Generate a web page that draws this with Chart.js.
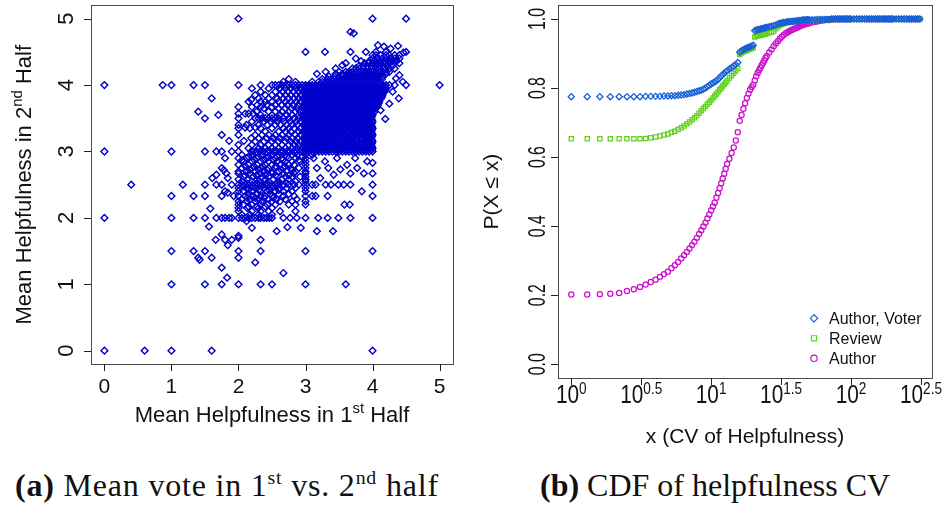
<!DOCTYPE html>
<html>
<head>
<meta charset="utf-8">
<title>Helpfulness votes</title>
<script src="https://cdn.jsdelivr.net/npm/chart.js@4.4.1/dist/chart.umd.min.js"></script>
<style>
  html, body { margin: 0; padding: 0; background: #fff; }
  body { width: 948px; height: 514px; position: relative; overflow: hidden; }
  #voteChart { position: absolute; left: 0; top: 0; }
  #cdfChart { position: absolute; left: 470px; top: 0; }
  .caption { position: absolute; top: 467px; font-family: "Liberation Serif", "DejaVu Serif", serif; font-size: 32px; line-height: 37px; color: #111; white-space: nowrap; }
  .caption sup { font-size: 0.62em; vertical-align: 0.6em; line-height: 0; }
</style>
</head>
<body>
<canvas id="voteChart" width="470" height="460"></canvas>
<canvas id="cdfChart" width="478" height="460"></canvas>
<div class="caption" style="left:15px; letter-spacing:0.8px"><b>(a)</b> Mean vote in 1<sup>st</sup> vs. 2<sup>nd</sup> half</div>
<div class="caption" style="left:540px"><b>(b)</b> CDF of helpfulness CV</div>
<script>
// ---- (a) mean helpfulness, first half vs second half ----
// isolated votes as [firstHalf, secondHalf]
const outlierVotes = [
  [2, 5], [4, 5], [4.5, 5], [3.67, 4.8], [3.72, 4.78],
  [4.08, 4.6], [4.17, 4.58], [4.38, 4.59], [4.27, 4.55], [4.46, 4.49],
  [3, 4.5], [3.29, 4.5], [3.67, 4.5], [3.9, 4.5], [4.5, 4.5], [4.05, 4.5], [4.2, 4.5],
  [3.17, 4.17], [3.3, 4.2], [3.45, 4.25], [3.55, 4.3], [3.6, 4.33],
  [0, 4], [0.87, 4], [1, 4], [1.33, 4], [1.5, 4], [2, 4], [2.33, 4], [2.5, 4], [4.33, 4], [4.5, 4], [5, 4],
  [1.6, 3.8], [1.4, 3.6], [1.5, 3.5], [1.7, 3.55], [2.19, 3.78], [2.15, 3.57],
  [4.19, 3.49], [4.39, 3.8], [4.12, 3.62], [4.25, 3.72], [4.3, 3.9], [4.45, 4.05], [4.4, 4.15], [4.35, 4.1],
  [0, 3], [1, 3], [1.5, 3], [1.67, 3], [1.75, 3], [1.9, 3],
  [1.8, 2.9], [1.67, 2.65], [1.75, 2.75], [1.84, 2.6], [1.61, 2.6], [1.78, 2.72], [1.82, 2.67],
  [0.4, 2.5], [1.17, 2.5], [1.5, 2.5], [1.67, 2.5], [1.75, 2.5],
  [1, 2.33], [1.33, 2.33], [1.5, 2.33], [1.75, 2.33], [1.84, 2.38], [1.93, 2.33], [1.8, 2.4],
  [1.58, 2.14], [0, 2], [1, 2], [1.33, 2], [1.5, 2], [1.67, 2], [1.75, 2],
  [1.56, 1.87], [1.75, 1.75], [1.66, 1.67], [1.8, 1.67], [1.9, 1.67], [1.84, 1.59], [2, 1.73], [2, 1.7],
  [2.2, 1.85], [2.33, 1.67], [2.12, 1.95], [2.57, 1.8], [2.73, 1.86], [2.93, 1.85], [3.17, 1.8], [3.41, 1.8],
  [1, 1.5], [1.33, 1.5], [1.5, 1.5], [2, 1.5], [2.33, 1.5], [3, 1.5], [4, 1.5],
  [1.4, 1.4], [1.42, 1.37], [1.6, 1.4], [2, 1.4], [2.25, 1.33], [1.75, 1.25], [1.83, 1.1], [2.67, 1.17],
  [1, 1], [1.5, 1], [1.75, 1], [2, 1], [2.33, 1], [2.5, 1], [3, 1], [3.6, 1],
  [0, 0], [0.6, 0], [1, 0], [1.6, 0], [4, 0],
  [3.12, 2.9], [3.22, 2.6], [3.42, 2.65], [3.52, 2.73], [3.57, 2.5], [3.92, 2.85], [3.84, 2.4],
  [3.1, 2.33], [3.15, 2.33], [3.33, 2.33], [4, 2.33], [3.58, 2.2], [3.66, 2.2], [4, 2.83]
];

// rows of votes sharing the same second-half mean: [secondHalf, [firstHalf...]]
const voteRows = [
  [4.45, [4, 4.05, 4.12, 4.2, 4.25, 4.33, 4.4]],
  [4.4, [3.75, 4, 4.07, 4.14, 4.2, 4.27, 4.33, 4.4]],
  [4.36, [3.83, 3.95, 4.02, 4.1, 4.17, 4.25, 4.3, 4.36]],
  [4.33, [3.88, 3.94, 4, 4.06, 4.12, 4.2, 4.25, 4.4]],
  [4.29, [3.8, 3.86, 3.92, 3.98, 4.04, 4.1, 4.15, 4.22, 4.3]],
  [4.25, [3.7, 3.75, 3.8, 3.86, 3.92, 4, 4.05, 4.1, 4.17, 4.25, 4.33]],
  [4.2, [3.5, 3.6, 3.65, 3.7, 3.75, 3.8, 3.85, 3.9, 3.95, 4, 4.05, 4.1, 4.15, 4.2, 4.25]],
  [4.17, [3.45, 3.55, 3.62, 3.67, 3.72, 3.78, 3.83, 3.88, 3.93, 3.98, 4.03, 4.08, 4.13, 4.2]],
  [4.13, [3.35, 3.43, 3.5, 3.55, 3.6, 3.65, 3.7, 3.75, 3.8, 3.85, 3.9, 3.95, 4, 4.05, 4.1, 4.15]],
  [4.09, [2.75, 3.25, 3.33, 3.38, 3.43, 3.48, 3.53, 3.58, 3.63, 3.68, 3.73, 3.78, 3.83, 3.88, 3.93, 3.98, 4.03, 4.08, 4.14]],
  [4.05, [2.67, 2.85, 3.1, 3.2, 3.25, 3.3, 3.35, 3.4, 3.45, 3.5, 3.55, 3.6, 3.65, 3.7, 3.75, 3.8, 3.85, 3.9, 3.95, 4, 4.05, 4.1]],
  [4, [2.55, 2.6, 2.65, 2.7, 2.75, 2.8, 2.85, 2.9, 2.95, 3, 3.05, 3.1, 3.15, 3.2, 3.25, 3.3, 3.35, 3.4, 3.45, 3.5, 3.55, 3.6, 3.65, 3.7, 3.75, 3.8, 3.85, 3.9, 3.95, 4, 4.05, 4.1, 4.15, 4.2, 4.25]],
  [3.95, [2.2, 2.45, 2.62, 2.7, 2.78, 2.86, 2.92, 3, 3.05, 3.1, 3.15, 3.2, 3.25, 3.3, 3.35, 3.4, 3.45, 3.5, 3.55, 3.6, 3.65, 3.7, 3.75, 3.8, 3.85, 3.9, 3.95, 4, 4.05, 4.1, 4.15, 4.2]],
  [3.9, [2.33, 2.55, 2.66, 2.74, 2.82, 2.9, 2.97, 3.03, 3.08, 3.13, 3.18, 3.23, 3.28, 3.33, 3.38, 3.43, 3.48, 3.53, 3.58, 3.63, 3.68, 3.73, 3.78, 3.83, 3.88, 3.93, 3.98, 4.03, 4.08, 4.13, 4.18]],
  [3.85, [2.25, 2.4, 2.5, 2.62, 2.7, 2.78, 2.86, 2.93, 3, 3.05, 3.1, 3.15, 3.2, 3.25, 3.3, 3.35, 3.4, 3.45, 3.5, 3.55, 3.6, 3.65, 3.7, 3.75, 3.8, 3.85, 3.9, 3.95, 4, 4.05, 4.1, 4.15]],
  [3.8, [2.3, 2.45, 2.58, 2.67, 2.75, 2.83, 2.9, 2.97, 3.03, 3.08, 3.13, 3.18, 3.23, 3.28, 3.33, 3.38, 3.43, 3.48, 3.53, 3.58, 3.63, 3.68, 3.73, 3.78, 3.83, 3.88, 3.93, 3.98, 4.03, 4.08, 4.13]],
  [3.75, [2.15, 2.33, 2.4, 2.5, 2.6, 2.7, 2.78, 2.86, 2.93, 3, 3.05, 3.1, 3.15, 3.2, 3.25, 3.3, 3.35, 3.4, 3.45, 3.5, 3.55, 3.6, 3.65, 3.7, 3.75, 3.8, 3.85, 3.9, 3.95, 4, 4.05, 4.1]],
  [3.7, [2.28, 2.42, 2.55, 2.64, 2.73, 2.81, 2.89, 2.97, 3.03, 3.08, 3.13, 3.18, 3.23, 3.28, 3.33, 3.38, 3.43, 3.48, 3.53, 3.58, 3.63, 3.68, 3.73, 3.78, 3.83, 3.88, 3.93, 3.98, 4.03, 4.08]],
  [3.67, [2, 2.2, 2.33, 2.5]],
  [3.65, [2.38, 2.6, 2.7, 2.79, 2.88, 3, 3.05, 3.1, 3.15, 3.2, 3.25, 3.3, 3.35, 3.4, 3.45, 3.5, 3.55, 3.6, 3.65, 3.7, 3.75, 3.8, 3.85, 3.9, 3.95, 4, 4.05]],
  [3.6, [2.27, 2.45, 2.55, 2.65, 2.75, 2.85, 2.92, 2.97, 3.03, 3.08, 3.13, 3.18, 3.23, 3.28, 3.33, 3.38, 3.43, 3.48, 3.53, 3.58, 3.63, 3.68, 3.73, 3.78, 3.83, 3.88, 3.93, 3.98, 4.03]],
  [3.57, [2, 2.1, 2.22]],
  [3.55, [2.33, 2.5, 2.62, 2.72, 2.8, 2.9, 3, 3.05, 3.1, 3.15, 3.2, 3.25, 3.3, 3.35, 3.4, 3.45, 3.5, 3.55, 3.6, 3.65, 3.7, 3.75, 3.8, 3.85, 3.9, 3.95, 4]],
  [3.5, [2, 2.25, 2.3, 2.35, 2.4, 2.45, 2.5, 2.55, 2.6, 2.67, 2.75, 2.83, 2.9, 2.97, 3.03, 3.08, 3.13, 3.18, 3.23, 3.28, 3.33, 3.38, 3.43, 3.48, 3.53, 3.58, 3.63, 3.68, 3.73, 3.78, 3.83, 3.88, 3.93, 3.98]],
  [3.45, [2.2, 2.38, 2.48, 2.58, 2.68, 2.77, 2.86, 2.93, 3, 3.05, 3.1, 3.15, 3.2, 3.25, 3.3, 3.35, 3.4, 3.45, 3.5, 3.55, 3.6, 3.65, 3.7, 3.75, 3.8, 3.85, 3.9, 3.95, 4]],
  [3.4, [2, 2.12, 2.3, 2.43, 2.55, 2.63, 2.72, 2.8, 2.88, 2.97, 3.03, 3.08, 3.13, 3.18, 3.23, 3.28, 3.33, 3.38, 3.43, 3.48, 3.53, 3.58, 3.63, 3.68, 3.73, 3.78, 3.83, 3.88, 3.93, 3.98]],
  [3.36, [2.1, 2.25]],
  [3.35, [2, 2.17, 2.33, 2.5, 2.67, 2.75, 2.83, 2.92, 3, 3.05, 3.1, 3.15, 3.2, 3.25, 3.3, 3.35, 3.4, 3.45, 3.5, 3.55, 3.6, 3.65, 3.7, 3.75, 3.8, 3.85, 3.9, 3.95, 4]],
  [3.3, [2.4, 2.6, 2.7, 2.78, 2.9, 2.97, 3.03, 3.08, 3.13, 3.18, 3.23, 3.28, 3.33, 3.38, 3.43, 3.48, 3.53, 3.58, 3.63, 3.73, 3.78, 3.83, 3.88, 3.93, 3.98]],
  [3.25, [1.75, 2, 2.25, 2.35, 2.45, 2.55, 2.65, 2.75, 2.85, 2.93, 3, 3.05, 3.1, 3.15, 3.2, 3.25, 3.3, 3.35, 3.4, 3.45, 3.5, 3.55, 3.6, 3.7, 3.75, 3.8, 3.85, 3.9, 3.95, 4]],
  [3.2, [2.19, 2.3, 2.42, 2.52, 2.62, 2.72, 2.8, 2.88, 2.97, 3.03, 3.08, 3.13, 3.18, 3.23, 3.28, 3.33, 3.38, 3.43, 3.48, 3.53, 3.63, 3.68, 3.73, 3.83, 3.93, 3.98]],
  [3.16, [1.86, 2.08]],
  [3.15, [2.25, 2.38, 2.5, 2.6, 2.7, 2.78, 2.86, 2.93, 3, 3.05, 3.1, 3.15, 3.2, 3.25, 3.3, 3.35, 3.4, 3.45, 3.5, 3.6, 3.65, 3.7, 3.75, 3.85, 3.9, 3.95, 4]],
  [3.1, [2, 2.2, 2.33, 2.45, 2.55, 2.65, 2.75, 2.83, 2.9, 2.97, 3.03, 3.08, 3.13, 3.18, 3.23, 3.28, 3.33, 3.38, 3.43, 3.53, 3.58, 3.63, 3.68, 3.78, 3.83, 3.88, 3.93, 3.98]],
  [3.05, [2.15, 2.3, 2.4, 2.5, 2.6, 2.7, 2.8, 2.88, 3, 3.05, 3.1, 3.15, 3.2, 3.25, 3.3, 3.35, 3.45, 3.5, 3.55, 3.6, 3.7, 3.75, 3.8, 3.85, 3.9, 3.95, 4]],
  [3, [2, 2.19, 2.22, 2.27, 2.32, 2.37, 2.42, 2.47, 2.52, 2.57, 2.62, 2.67, 2.72, 2.77, 2.82, 2.87, 2.92, 2.97, 3, 3.05, 3.1, 3.15, 3.2, 3.25, 3.3, 3.35, 3.4, 3.45, 3.5, 3.55, 3.6, 3.65, 3.7, 3.75, 3.8, 3.85, 3.9, 3.95, 4]],
  [2.95, [2.05, 2.2, 2.35, 2.5, 2.6, 2.7, 2.8, 2.88, 3, 3.1]],
  [2.92, [2.15, 2.3, 2.45, 2.58, 2.72, 2.95]],
  [2.9, [2, 2.12, 2.27, 2.42, 2.55, 2.65, 2.75, 2.85, 3, 3.47, 3.74]],
  [2.87, [2.05, 2.24, 2.38, 2.52, 2.66, 2.9]],
  [2.85, [2.08, 2.2, 2.33, 2.45, 2.58, 2.7, 2.8, 2.92, 3, 3.29]],
  [2.8, [2, 2.15, 2.28, 2.4, 2.5, 2.62, 2.75, 2.83, 3, 3.62]],
  [2.78, [2.1, 2.23, 2.36, 2.56, 2.69]],
  [2.75, [2.05, 2.2, 2.33, 2.45, 2.55, 2.67, 2.78, 2.9, 3, 3.17, 3.34, 3.77]],
  [2.72, [2.17, 2.3, 2.43, 2.64, 2.8]],
  [2.7, [2, 2.12, 2.25, 2.38, 2.5, 2.6, 2.72, 2.85, 3]],
  [2.67, [2, 2.17, 2.33, 2.5, 2.67, 2.83, 3, 3.67, 3.87, 4]],
  [2.64, [2.1, 2.27, 2.4, 2.55, 2.75]],
  [2.62, [2.08, 2.22, 2.35, 2.45, 2.58, 2.7, 2.8, 2.92, 3]],
  [2.58, [2, 2.13, 2.27, 2.4, 2.52, 2.65, 2.75, 3]],
  [2.55, [2.05, 2.2, 2.3, 2.45, 2.6, 2.85, 3]],
  [2.52, [2.12, 2.27, 2.42, 2.57, 2.72]],
  [2.5, [1.9, 2, 2.05, 2.1, 2.15, 2.2, 2.25, 2.3, 2.35, 2.4, 2.45, 2.5, 2.55, 2.6, 2.67, 2.75, 2.83, 2.9, 3, 3.1, 3.15, 3.3, 3.38, 3.49, 3.67, 4]],
  [2.48, [2.07, 2.22, 2.35, 2.52, 2.66]],
  [2.45, [2, 2.12, 2.25, 2.38, 2.5, 2.62, 2.72, 2.85, 3]],
  [2.42, [2.15, 2.3, 2.46, 2.6]],
  [2.4, [2, 2.08, 2.2, 2.33, 2.42, 2.55, 2.67, 2.8, 3]],
  [2.36, [2.15, 2.28, 2.47, 2.6, 2.75]],
  [2.33, [2, 2.1, 2.2, 2.33, 2.4, 2.5, 2.67, 2.83, 3]],
  [2.3, [2.13, 2.25, 2.38, 2.52]],
  [2.28, [2.05, 2.18, 2.3, 2.45, 2.57, 2.7, 2.87]],
  [2.25, [2, 2.12, 2.25, 2.35, 2.5, 2.62, 2.8, 3]],
  [2.2, [2, 2.08, 2.2, 2.33, 2.43, 2.55, 2.75, 2.85, 3]],
  [2.17, [2.15, 2.27, 2.4]],
  [2.15, [2, 2.13, 2.3, 2.5]],
  [2.1, [2, 2.2, 2.33, 2.45, 2.62, 2.85]],
  [2.05, [2.05, 2.17, 2.3, 2.5]],
  [2, [1.8, 1.86, 1.9, 2, 2.05, 2.1, 2.15, 2.2, 2.25, 2.3, 2.33, 2.38, 2.42, 2.46, 2.5, 2.67, 2.77, 2.87, 3, 3.19, 3.33, 3.49, 3.67, 4]]
];

// the crowded block between 3 and 4: in-between rows of the same cloud
const coreRows = [
  [3.975, [2.99, 3.04, 3.09, 3.14, 3.19, 3.24, 3.29, 3.34, 3.39, 3.44, 3.49, 3.54, 3.59, 3.64, 3.69, 3.74, 3.79, 3.84, 3.89, 3.94, 3.99, 4.04, 4.09, 4.14, 4.19]],
  [3.925, [2.99, 3.04, 3.09, 3.14, 3.19, 3.24, 3.29, 3.34, 3.39, 3.44, 3.49, 3.54, 3.59, 3.64, 3.69, 3.74, 3.79, 3.84, 3.89, 3.94, 3.99, 4.04, 4.09, 4.14, 4.19]],
  [3.875, [2.99, 3.04, 3.09, 3.14, 3.19, 3.24, 3.29, 3.34, 3.39, 3.44, 3.49, 3.54, 3.59, 3.64, 3.69, 3.74, 3.79, 3.84, 3.89, 3.94, 3.99, 4.04, 4.09, 4.14]],
  [3.825, [2.99, 3.04, 3.09, 3.14, 3.19, 3.24, 3.29, 3.34, 3.39, 3.44, 3.49, 3.54, 3.59, 3.64, 3.69, 3.74, 3.79, 3.84, 3.89, 3.94, 3.99, 4.04, 4.09, 4.14]],
  [3.775, [2.99, 3.04, 3.09, 3.14, 3.19, 3.24, 3.29, 3.34, 3.39, 3.44, 3.49, 3.54, 3.59, 3.64, 3.69, 3.74, 3.79, 3.84, 3.89, 3.94, 3.99, 4.04, 4.09]],
  [3.725, [2.99, 3.04, 3.09, 3.14, 3.19, 3.24, 3.29, 3.34, 3.39, 3.44, 3.49, 3.54, 3.59, 3.64, 3.69, 3.74, 3.79, 3.84, 3.89, 3.94, 3.99, 4.04, 4.09]],
  [3.675, [2.99, 3.04, 3.09, 3.14, 3.19, 3.24, 3.29, 3.34, 3.39, 3.44, 3.49, 3.54, 3.59, 3.64, 3.69, 3.74, 3.79, 3.84, 3.89, 3.94, 3.99, 4.04]],
  [3.625, [2.99, 3.04, 3.09, 3.14, 3.19, 3.24, 3.29, 3.34, 3.39, 3.44, 3.49, 3.54, 3.59, 3.64, 3.69, 3.74, 3.79, 3.84, 3.89, 3.94, 3.99]],
  [3.575, [2.99, 3.04, 3.09, 3.14, 3.19, 3.24, 3.29, 3.34, 3.39, 3.44, 3.49, 3.54, 3.59, 3.64, 3.69, 3.74, 3.79, 3.84, 3.89, 3.94, 3.99]],
  [3.525, [2.99, 3.04, 3.09, 3.14, 3.19, 3.24, 3.29, 3.34, 3.39, 3.44, 3.49, 3.54, 3.59, 3.64, 3.69, 3.74, 3.79, 3.84, 3.89, 3.94, 3.99]],
  [3.475, [2.99, 3.04, 3.09, 3.14, 3.19, 3.24, 3.29, 3.34, 3.39, 3.44, 3.49, 3.54, 3.59, 3.64, 3.69, 3.74, 3.79, 3.84, 3.89, 3.94, 3.99]],
  [3.425, [2.99, 3.04, 3.09, 3.14, 3.19, 3.24, 3.29, 3.34, 3.39, 3.44, 3.49, 3.54, 3.59, 3.64, 3.69, 3.74, 3.79, 3.84, 3.89, 3.94, 3.99]],
  [3.375, [2.99, 3.04, 3.09, 3.14, 3.19, 3.24, 3.29, 3.34, 3.39, 3.44, 3.49, 3.54, 3.59, 3.64, 3.69, 3.74, 3.79, 3.84, 3.89, 3.94, 3.99]],
  [3.325, [2.99, 3.04, 3.09, 3.14, 3.19, 3.24, 3.29, 3.34, 3.39, 3.44, 3.49, 3.54, 3.59, 3.74, 3.79, 3.84, 3.89, 3.94, 3.99]],
  [3.275, [2.99, 3.04, 3.09, 3.14, 3.19, 3.24, 3.29, 3.34, 3.39, 3.44, 3.49, 3.54, 3.69, 3.74, 3.79, 3.84, 3.89, 3.94, 3.99]],
  [3.225, [2.99, 3.04, 3.09, 3.14, 3.19, 3.24, 3.29, 3.34, 3.39, 3.44, 3.49, 3.64, 3.69, 3.74, 3.79, 3.89, 3.94, 3.99]],
  [3.175, [2.99, 3.04, 3.09, 3.14, 3.19, 3.24, 3.29, 3.34, 3.39, 3.44, 3.59, 3.64, 3.69, 3.74, 3.84, 3.89, 3.94, 3.99]],
  [3.125, [2.99, 3.04, 3.09, 3.14, 3.19, 3.24, 3.29, 3.34, 3.39, 3.54, 3.59, 3.64, 3.69, 3.79, 3.84, 3.89, 3.94, 3.99]],
  [3.075, [2.99, 3.04, 3.09, 3.14, 3.19, 3.24, 3.29, 3.34, 3.49, 3.54, 3.59, 3.64, 3.74, 3.79, 3.84, 3.89, 3.94, 3.99]],
  [3.025, [2.99, 3.04, 3.09, 3.14, 3.19, 3.24, 3.29, 3.34, 3.44, 3.49, 3.54, 3.59, 3.64, 3.69, 3.74, 3.79, 3.84, 3.89, 3.94, 3.99]]
];

const voteTicks = [0, 1, 2, 3, 4, 5];

// ---- (b) CDF of helpfulness CV ----
const cvValues = [
  1, 1.3, 1.6, 1.9, 2.2, 2.5, 2.8, 3.1, 3.4, 3.7,
  4, 4.3, 4.6, 4.9, 5.2, 5.5, 5.8, 6.1, 6.4, 6.7,
  7, 7.3, 7.6, 7.9, 8.2, 8.5, 8.8, 9.1, 9.4, 9.7,
  10, 10.3, 10.6, 10.9, 11.2, 11.5, 11.8, 12.1, 12.4, 12.7,
  13,
  13.5, 14, 14.5, 15, 15.5, 16, 16.5, 17, 17.5, 18,
  18.5, 19, 19.5, 20, 20.5, 21, 21.5, 22, 22.5, 23,
  23.5, 24, 24.5, 25,
  26, 27, 28, 29, 30, 31, 32, 33, 34, 35, 36, 37, 38, 39, 40, 41, 42, 43, 44, 45, 46, 47, 48, 49, 50,
  52.5, 55, 57.5, 60, 62.5, 65, 67.5, 70, 72.5, 75, 77.5, 80, 82.5, 85, 87.5, 90, 92.5, 95, 97.5, 100,
  105, 110, 115, 120, 125, 130, 135, 140, 145, 150, 155, 160, 165, 170, 175, 180, 185, 190, 195, 200,
  210, 220, 230, 240, 250, 260, 270, 280, 290, 300, 310
];

const cdfAuthorVoter = [
  0.775, 0.775, 0.775, 0.775, 0.775, 0.775, 0.775, 0.775, 0.776, 0.776,
  0.776, 0.776, 0.777, 0.777, 0.778, 0.778, 0.779, 0.78, 0.781, 0.783,
  0.784, 0.786, 0.788, 0.79, 0.792, 0.794, 0.797, 0.8, 0.804, 0.808,
  0.812, 0.815, 0.818, 0.821, 0.825, 0.83, 0.835, 0.839, 0.843, 0.847,
  0.85,
  0.855, 0.86, 0.864, 0.868, 0.874, 0.904, 0.908, 0.911, 0.914, 0.916,
  0.918, 0.92, 0.922, 0.924, 0.966, 0.968, 0.969, 0.97, 0.971, 0.972,
  0.973, 0.974, 0.975, 0.976,
  0.978, 0.979, 0.981, 0.983, 0.986, 0.988, 0.989, 0.99, 0.991, 0.992, 0.992, 0.993, 0.993, 0.994, 0.994, 0.995, 0.995, 0.996, 0.996, 0.997, 0.997, 0.997, 0.998, 0.998, 0.998,
  0.998, 0.998, 0.999, 0.999, 0.999, 0.999, 0.999, 0.999, 1, 1, 1, 1, 1, 1, 1, 1, 1, 1, 1, 1,
  1, 1, 1, 1, 1, 1, 1, 1, 1, 1, 1, 1, 1, 1, 1, 1, 1, 1, 1, 1,
  1, 1, 1, 1, 1, 1, 1, 1, 1, 1, 1
];

const cdfReview = [
  0.653, 0.653, 0.653, 0.653, 0.653, 0.653, 0.653, 0.653, 0.654, 0.656,
  0.658, 0.661, 0.664, 0.667, 0.671, 0.675, 0.68, 0.685, 0.69, 0.696,
  0.702, 0.708, 0.714, 0.72, 0.727, 0.734, 0.741, 0.747, 0.753, 0.759,
  0.765, 0.771, 0.777, 0.783, 0.789, 0.795, 0.8, 0.806, 0.811, 0.816,
  0.821,
  0.829, 0.836, 0.843, 0.85, 0.857, 0.897, 0.902, 0.905, 0.907, 0.909,
  0.911, 0.913, 0.915, 0.917, 0.948, 0.95, 0.951, 0.952, 0.953, 0.954,
  0.955, 0.956, 0.957, 0.958,
  0.96, 0.962, 0.965, 0.972, 0.978, 0.982, 0.985, 0.987, 0.989, 0.99, 0.991, 0.992, 0.993, 0.993, 0.994, 0.994, 0.995, 0.995, 0.996, 0.996, 0.996, 0.997, 0.997, 0.997, 0.998,
  0.998, 0.998, 0.998, 0.999, 0.999, 0.999, 0.999, 0.999, 0.999, 1, 1, 1, 1, 1, 1, 1, 1, 1, 1, 1,
  1, 1, 1, 1, 1, 1, 1, 1, 1, 1, 1, 1, 1, 1, 1, 1, 1, 1, 1, 1,
  1, 1, 1, 1, 1, 1, 1, 1, 1, 1, 1
];

const cdfAuthor = [
  0.202, 0.202, 0.203, 0.204, 0.206, 0.212, 0.217, 0.224, 0.231, 0.238,
  0.245, 0.253, 0.261, 0.268, 0.278, 0.287, 0.296, 0.306, 0.316, 0.325,
  0.335, 0.345, 0.355, 0.366, 0.377, 0.388, 0.399, 0.41, 0.422, 0.434,
  0.446, 0.457, 0.468, 0.482, 0.496, 0.51, 0.524, 0.538, 0.552, 0.566,
  0.58,
  0.595, 0.612, 0.628, 0.648, 0.672, 0.705, 0.722, 0.74, 0.756, 0.771,
  0.784, 0.795, 0.803, 0.81, 0.822, 0.834, 0.844, 0.852, 0.859, 0.866,
  0.873, 0.88, 0.887, 0.893,
  0.903, 0.912, 0.921, 0.929, 0.936, 0.943, 0.949, 0.954, 0.958, 0.961, 0.964, 0.967, 0.969, 0.971, 0.973, 0.975, 0.977, 0.979, 0.981, 0.982, 0.984, 0.985, 0.986, 0.987, 0.988,
  0.99, 0.992, 0.993, 0.995, 0.996, 0.997, 0.998, 0.999, 0.999, 1, 1, 1, 1, 1, 1, 1, 1, 1, 1, 1,
  1, 1, 1, 1, 1, 1, 1, 1, 1, 1, 1, 1, 1, 1, 1, 1, 1, 1, 1, 1,
  1, 1, 1, 1, 1, 1, 1, 1, 1, 1, 1
];

const cdfSeriesNames = ['Author, Voter', 'Review', 'Author'];
const cdfTicks = [0, 0.2, 0.4, 0.6, 0.8, 1.0];
const cvTickExponents = ['0', '0.5', '1', '1.5', '2', '2.5'];

const SANS = '"Liberation Sans", Arial, sans-serif';
const INK = '#111';

// text made of pieces of different size / raise, centred on (x, y) baseline
function drawPieces(ctx, pieces, x, y, opts = {}) {
  ctx.save();
  ctx.translate(x, y);
  if (opts.rotate) ctx.rotate(opts.rotate);
  ctx.scale(opts.squeeze || 1, 1);
  ctx.fillStyle = INK;
  ctx.textAlign = 'left';
  ctx.textBaseline = 'alphabetic';
  const widths = pieces.map(p => {
    ctx.font = p.size + 'px ' + SANS;
    return ctx.measureText(p.text).width;
  });
  let cursor = -widths.reduce((a, b) => a + b, 0) / 2;
  pieces.forEach((p, i) => {
    ctx.font = p.size + 'px ' + SANS;
    ctx.fillText(p.text, cursor, -(p.rise || 0));
    cursor += widths[i];
  });
  ctx.restore();
}

function withSup(before, sup, after, size) {
  return [
    { text: before, size: size },
    { text: sup, size: size * 0.68, rise: size * 0.42 },
    { text: after, size: size }
  ];
}

function drawFrame(ctx, area) {
  ctx.save();
  ctx.strokeStyle = '#4a4a4a';
  ctx.lineWidth = 1;
  ctx.strokeRect(Math.round(area.left) + 0.5, Math.round(area.top) + 0.5,
    Math.round(area.right - area.left), Math.round(area.bottom - area.top));
  ctx.restore();
}

const voteAxes = {
  id: 'voteAxes',
  afterDraw(chart) {
    const { ctx, chartArea, scales } = chart;
    drawFrame(ctx, chartArea);
    ctx.save();
    ctx.strokeStyle = '#222';
    ctx.lineWidth = 1;
    voteTicks.forEach(t => {
      const px = Math.round(scales.x.getPixelForValue(t)) + 0.5;
      ctx.beginPath();
      ctx.moveTo(px, chartArea.bottom);
      ctx.lineTo(px, chartArea.bottom + 7);
      ctx.stroke();
      const py = Math.round(scales.y.getPixelForValue(t)) + 0.5;
      ctx.beginPath();
      ctx.moveTo(chartArea.left, py);
      ctx.lineTo(chartArea.left - 7, py);
      ctx.stroke();
    });
    ctx.restore();
    voteTicks.forEach(t => {
      drawPieces(ctx, [{ text: String(t), size: 21 }], scales.x.getPixelForValue(t), 393);
      drawPieces(ctx, [{ text: String(t), size: 22 }], 73, scales.y.getPixelForValue(t), { rotate: -Math.PI / 2 });
    });
    const midX = (chartArea.left + chartArea.right) / 2;
    const midY = (chartArea.top + chartArea.bottom) / 2;
    drawPieces(ctx, withSup('Mean Helpfulness in 1', 'st', ' Half', 22), midX, 422);
    drawPieces(ctx, withSup('Mean Helpfulness in 2', 'nd', ' Half', 22), 31, midY, { rotate: -Math.PI / 2 });
  }
};

const cdfStyles = [
  { color: '#1560d8', pointStyle: 'rectRot', radius: 3.1 },
  { color: '#62d11f', pointStyle: 'rect', radius: 3.0 },
  { color: '#cd10cd', pointStyle: 'circle', radius: 2.6 }
];

const cdfAxes = {
  id: 'cdfAxes',
  afterDraw(chart) {
    const { ctx, chartArea, scales } = chart;
    drawFrame(ctx, chartArea);
    ctx.save();
    ctx.strokeStyle = '#222';
    ctx.lineWidth = 1;
    cvTickExponents.forEach(e => {
      const px = Math.round(scales.x.getPixelForValue(Math.pow(10, Number(e)))) + 0.5;
      ctx.beginPath();
      ctx.moveTo(px, chartArea.bottom);
      ctx.lineTo(px, chartArea.bottom + 7);
      ctx.stroke();
    });
    cdfTicks.forEach(t => {
      const py = Math.round(scales.y.getPixelForValue(t)) + 0.5;
      ctx.beginPath();
      ctx.moveTo(chartArea.left, py);
      ctx.lineTo(chartArea.left - 7, py);
      ctx.stroke();
    });
    ctx.restore();

    cvTickExponents.forEach(e => {
      const px = scales.x.getPixelForValue(Math.pow(10, Number(e)));
      drawPieces(ctx, [
        { text: '10', size: 26 },
        { text: e, size: 17, rise: 9 }
      ], px, 403, { squeeze: 0.8 });
    });
    cdfTicks.forEach(t => {
      drawPieces(ctx, [{ text: t.toFixed(1), size: 24 }], 75, scales.y.getPixelForValue(t),
        { rotate: -Math.PI / 2, squeeze: 0.66 });
    });
    const midX = (chartArea.left + chartArea.right) / 2;
    const midY = (chartArea.top + chartArea.bottom) / 2;
    drawPieces(ctx, [{ text: 'x (CV of Helpfulness)', size: 21 }], midX, 443);
    drawPieces(ctx, [{ text: 'P(X \u2264 x)', size: 21 }], 27.5, midY, { rotate: -Math.PI / 2 });

    // legend in the lower right corner
    const legendY = [318.3, 338.3, 358.3];
    cdfSeriesNames.forEach((name, i) => {
      const st = cdfStyles[i];
      ctx.save();
      ctx.strokeStyle = st.color;
      ctx.fillStyle = 'rgba(0,0,0,0)';
      ctx.lineWidth = 1.2;
      Chart.helpers.drawPoint(ctx, { pointStyle: st.pointStyle, radius: st.radius + 0.6, borderWidth: 1.2, rotation: 0 }, 344, legendY[i]);
      ctx.restore();
      ctx.save();
      ctx.fillStyle = INK;
      ctx.font = '16px ' + SANS;
      ctx.textBaseline = 'middle';
      ctx.fillText(name, 359, legendY[i] + 1);
      ctx.restore();
    });
  }
};

const votePoints = outlierVotes.map(([x, y]) => ({ x, y }))
  .concat(voteRows.concat(coreRows).flatMap(([y, xs]) => xs.map(x => ({ x, y }))));

new Chart(document.getElementById('voteChart'), {
  type: 'scatter',
  data: {
    datasets: [{
      data: votePoints,
      pointStyle: 'rectRot',
      pointRadius: 3.4,
      borderWidth: 1.4,
      borderColor: '#0000cd',
      backgroundColor: 'rgba(0,0,0,0)'
    }]
  },
  options: {
    responsive: false,
    animation: false,
    events: [],
    layout: { padding: { left: 91, top: 3, right: 17, bottom: 96 } },
    scales: {
      x: { type: 'linear', min: -0.2, max: 5.2, display: false },
      y: { type: 'linear', min: -0.2, max: 5.2, display: false }
    },
    plugins: { legend: { display: false }, tooltip: { enabled: false } }
  },
  plugins: [voteAxes]
});

const cdfData = [cdfAuthorVoter, cdfReview, cdfAuthor];

new Chart(document.getElementById('cdfChart'), {
  type: 'scatter',
  data: {
    datasets: cdfData.map((ys, i) => ({
      label: cdfSeriesNames[i],
      data: cvValues.map((x, j) => ({ x, y: ys[j] })),
      pointStyle: cdfStyles[i].pointStyle,
      pointRadius: cdfStyles[i].radius,
      borderWidth: 1.25,
      borderColor: cdfStyles[i].color,
      backgroundColor: 'rgba(0,0,0,0)'
    }))
  },
  options: {
    responsive: false,
    animation: false,
    events: [],
    layout: { padding: { left: 88, top: 3, right: 16, bottom: 82 } },
    scales: {
      x: { type: 'logarithmic', min: 0.8035, max: 379.3, display: false },
      y: { type: 'linear', min: -0.04, max: 1.04, display: false }
    },
    plugins: { legend: { display: false }, tooltip: { enabled: false } }
  },
  plugins: [cdfAxes]
});
</script>
</body>
</html>
